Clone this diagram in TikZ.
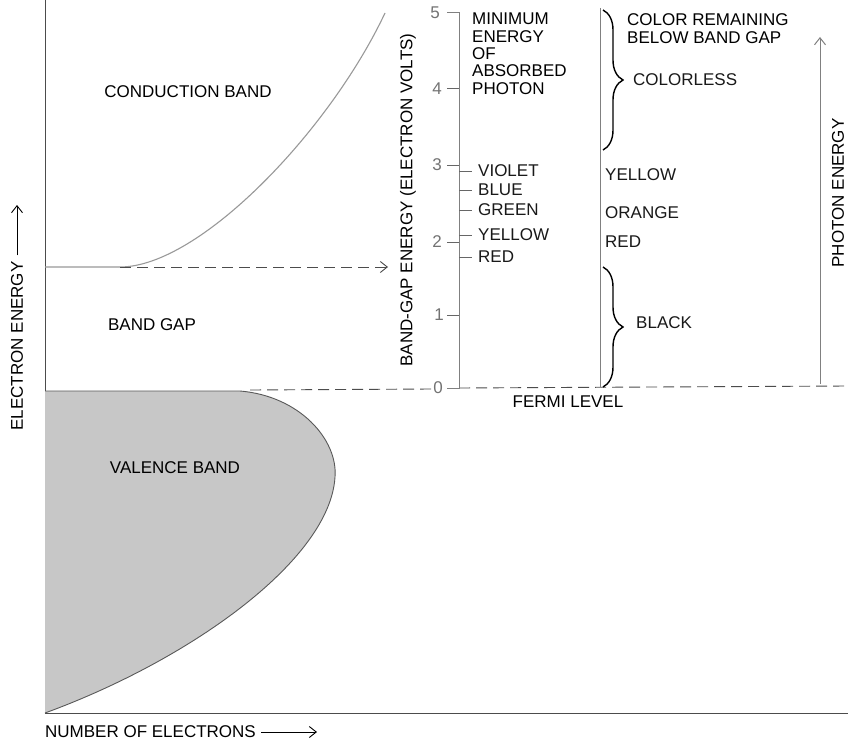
\documentclass[tikz,border=0pt]{standalone}
\usepackage{fontspec}
\setmainfont{Liberation Sans}
\usetikzlibrary{decorations.pathreplacing,arrows.meta}
\begin{document}
\begin{tikzpicture}[x=1pt,y=1pt,
  every node/.style={font=\fontsize{17}{17.3}\selectfont, inner sep=0pt},
  axisline/.style={draw=black!70, line width=0.9pt},
  bandline/.style={draw=black!40, line width=1.1pt},
  dashline/.style={draw=black!70, line width=0.9pt, dash pattern=on 11pt off 6pt},
  scaleline/.style={draw=black!50, line width=1pt},
  tickline/.style={draw=black!60, line width=1pt},
  numlbl/.style={text=black!55},
  lbl/.style={anchor=west, text=black!90},
  bracestyle/.style={decorate, decoration={brace, amplitude=20pt, aspect=0.5}, line width=1.4pt, draw=black},
  arrowtip/.style={-{Straight Barb[length=7pt,width=11pt]}}
]
\useasboundingbox (0,0) rectangle (848,-741);
\fill[white] (0,0) rectangle (848,-741);

% axes
\coordinate (origin) at (45,-713);
\coordinate (ytop) at (45,0);
\coordinate (xend) at (848,-713);
\draw[axisline] (ytop) -- (origin) -- (xend);

% valence band
\coordinate (vtop) at (240,-391);
\fill[black!22] (45,-391) -- (vtop) .. controls (300,-396) and (338,-440) .. (335,-477)
   .. controls (330,-560) and (190,-660) .. (origin) -- cycle;
\draw[draw=black!65, line width=0.9pt] (45,-391) -- (vtop) .. controls (300,-396) and (338,-440) .. (335,-477)
   .. controls (330,-560) and (190,-660) .. (origin);

% conduction band
\coordinate (cstart) at (120,-267);
\draw[bandline] (45,-267) -- (cstart) .. controls (200,-267) and (330,-130) .. (385,-13);
\coordinate (cend) at (388,-267);
\draw[dashline, arrowtip, dash pattern=on 11pt off 6pt] (cstart) -- (cend);

% dashed Fermi lines
\coordinate (vdash) at (250,-390);
\coordinate (zdash) at (432,-389);
\draw[dashline] (vdash) -- (zdash);
\coordinate (s0) at (459,-388);
\coordinate (rdash) at (848,-386);
\draw[dashline] (s0) -- (rdash);

% energy scale
\coordinate (s5) at (459,-13);
\draw[scaleline] (447,-13) -- (s5) -- (s0) -- (447,-388);
\foreach \v/\y in {1/315,2/242,3/165,4/89} {
  \draw[tickline] (447,-\y) -- (459,-\y);
}
\foreach \v/\y/\x in {5/13/435,4/89/437,3/165/437,2/242/437,1/315/439,0/388/438} {
  \node[numlbl] (n\v) at (\x,-\y) {\v};
}
\node[rotate=90] (bgtitle) at (408,-200) {BAND-GAP ENERGY (ELECTRON VOLTS)};

% colour ticks
\foreach \name/\y in {VIOLET/171,BLUE/190,GREEN/210,YELLOW/235,RED/257} {
  \draw[tickline] (459,-\y) -- (472,-\y);
  \node[lbl] (c\name) at (478,-\y) {\name};
}
\node[anchor=north west, align=left] (minlbl) at (472,-13) {MINIMUM\\ENERGY\\OF\\ABSORBED\\PHOTON};

% second vertical line
\coordinate (vtopb) at (600,-8);
\coordinate (vbotb) at (600,-387);
\draw[scaleline] (vtopb) -- (vbotb);

% braces
\draw[bracestyle] (603,-10) -- (603,-150);
\draw[bracestyle] (603,-267) -- (603,-387);
\node[anchor=north west, align=left, font=\fontsize{17}{18.5}\selectfont] (remlbl) at (627,-13) {COLOR REMAINING\\BELOW BAND GAP};
\node[lbl] (colorless) at (633,-80) {COLORLESS};
\node[lbl] (ryellow) at (605,-175) {YELLOW};
\node[lbl] (rorange) at (605,-213) {ORANGE};
\node[lbl] (rred) at (605,-242) {RED};
\node[lbl] (black) at (636,-323) {BLACK};

% photon energy arrow
\coordinate (pbot) at (820,-384);
\coordinate (ptop) at (820,-37);
\draw[scaleline, arrowtip] (pbot) -- (ptop);
\node[rotate=90] (plbl) at (838,-193) {PHOTON ENERGY};

\node (fermi) at (568,-402) {FERMI LEVEL};

% band labels
\node (cb) at (188,-92) {CONDUCTION BAND};
\node (bg) at (152,-325) {BAND GAP};
\node (vb) at (175,-468) {VALENCE BAND};

% axis labels
\node[rotate=90] (eelbl) at (17,-346) {ELECTRON ENERGY};
\coordinate (eetip) at (17,-205);
\draw[line width=0.9pt, arrowtip] ([yshift=6pt]eelbl.east) -- (eetip);
\node[anchor=west] (nelbl) at (45,-732) {NUMBER OF ELECTRONS};
\coordinate (netip) at (317,-732);
\draw[line width=0.9pt, arrowtip] ([xshift=5pt]nelbl.east) -- (netip);
\end{tikzpicture}
\end{document}
